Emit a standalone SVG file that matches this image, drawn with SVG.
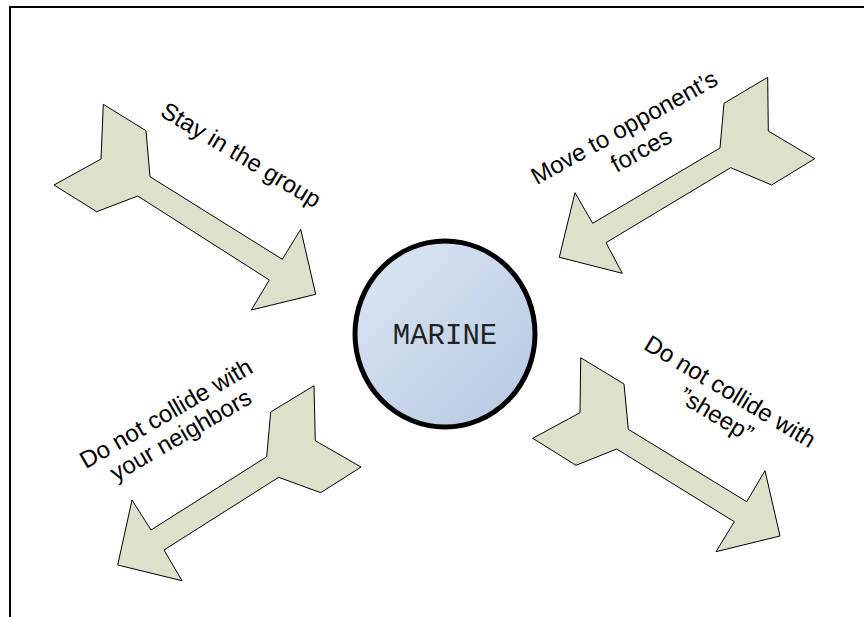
<svg xmlns="http://www.w3.org/2000/svg" width="864" height="617" viewBox="0 0 864 617">
<defs>
<linearGradient id="g" x1="0" y1="0" x2="1" y2="1">
<stop offset="0" stop-color="#dde7f4"/>
<stop offset="1" stop-color="#b5c8e1"/>
</linearGradient>
<style>
.arr{fill:#dde0cb;stroke:#000;stroke-width:1;stroke-linejoin:miter}
.lbl{font-family:"Liberation Sans",Arial,sans-serif;font-size:24px;fill:#000;text-anchor:middle}
.core{font-family:"Liberation Mono","Courier New",monospace;font-size:29px;fill:#222;text-anchor:middle}
</style>
</defs>
<rect x="10" y="7" width="900" height="700" fill="none" stroke="#000" stroke-width="2"/>
<g id="arrows">
<polygon class="arr" points="103.3,104.3 146,130.7 150,176.7 282.3,259.3 300.7,229.3 315.7,294.3 251.3,310 269.3,280 137.7,196 96.7,211.7 54,185 101,159"/>
<polygon class="arr" points="767.7,77.3 768.3,131 814.7,158.7 771.7,185 730.7,167.7 606,242.7 622.3,273.3 559.3,257.3 575,192.7 592.7,223.3 720,148 724,103.3"/>
<polygon class="arr" points="314,385.7 315.3,440.7 361,467 320.7,492.7 278.7,477.3 164,550 182,580.7 117.7,565 132,500 151,530 266.7,456.7 270.7,412"/>
<polygon class="arr" points="580.7,357.7 624,384 628.3,429.3 746.7,501.7 765,470.7 780,536 716,551.7 734.3,521.7 616.7,449 576,465.3 532.7,438.3 580,412.7"/>
</g>
<g id="marine">
<ellipse cx="445" cy="334" rx="90" ry="93" fill="url(#g)" stroke="#000" stroke-width="5"/>
<text class="core" x="445" y="344">MARINE</text>
</g>
<g id="label-stay" transform="translate(241,155) rotate(31)">
<text class="lbl" x="0" y="8">Stay  in the group</text>
</g>
<g id="label-move" transform="translate(630,138) rotate(-29)">
<text class="lbl" x="0" y="-4">Move to opponent’s</text>
<text class="lbl" x="4" y="24">forces</text>
</g>
<g id="label-neighbors" transform="translate(172,424) rotate(-30)">
<text class="lbl" x="0" y="-4">Do not collide with</text>
<text class="lbl" x="2" y="22">your neighbors</text>
</g>
<g id="label-sheep" transform="translate(724,402) rotate(31)">
<text class="lbl" x="0" y="-4">Do not collide with</text>
<text class="lbl" x="0" y="23">”sheep”</text>
</g>
</svg>
